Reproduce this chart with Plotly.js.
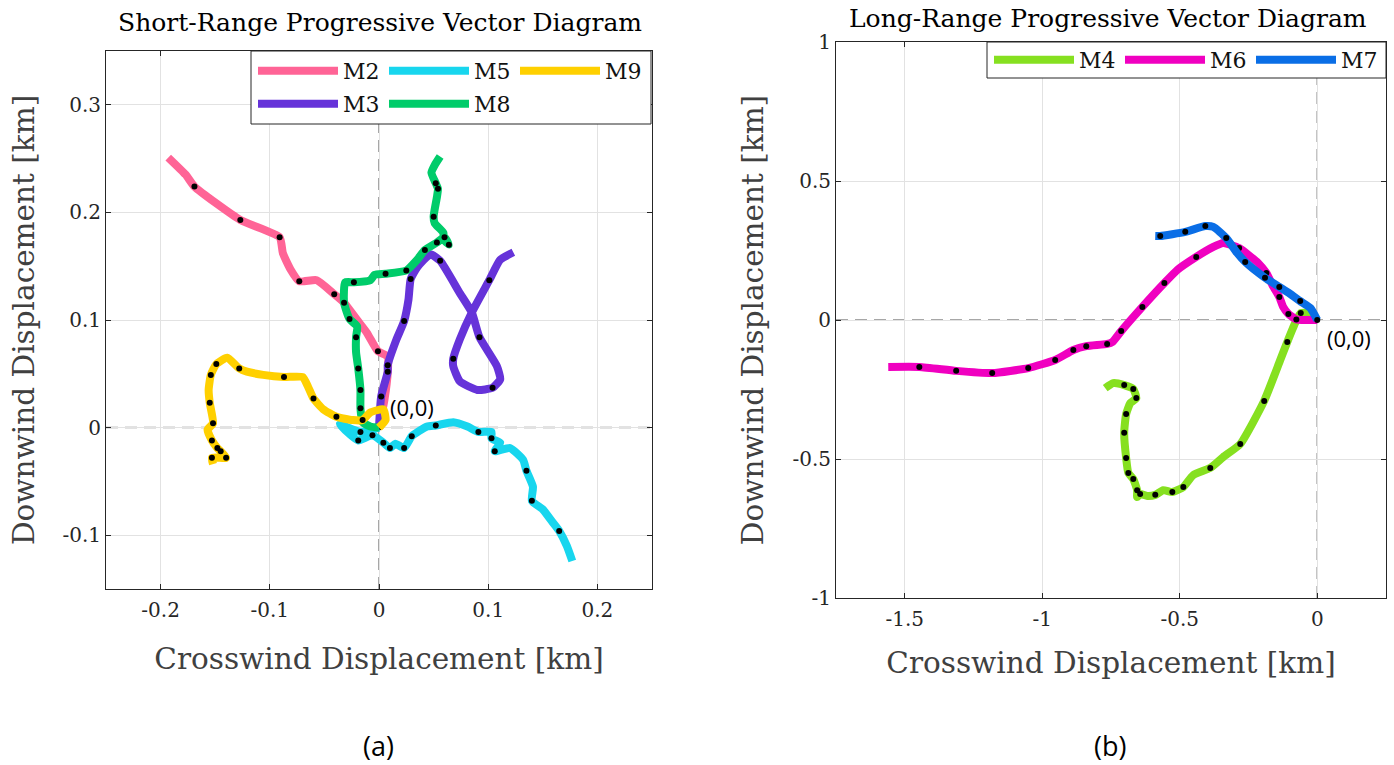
<!DOCTYPE html>
<html><head><meta charset="utf-8">
<script src="https://cdn.plot.ly/plotly-3.0.1.min.js"></script>
<style>html,body{margin:0;padding:0;background:#fff}#chart{width:1394px;height:765px}</style>
</head><body><div id="chart"></div>
<script>
// ---------- Short-range (a) ----------
const m2X = [0, 0.005, 0.008, 0.008, -0.001, -0.011, -0.020, -0.032, -0.041, -0.057, -0.073, -0.081, -0.088, -0.091, -0.127, -0.169, -0.177, -0.193];
const m2Y = [0, 0.026, 0.051, 0.066, 0.071, 0.088, 0.100, 0.116, 0.124, 0.137, 0.136, 0.147, 0.162, 0.177, 0.193, 0.224, 0.235, 0.251];
const m2Dot = [0,0,0,0,1,0,0,0,1,0,1,0,0,1,1,1,0,0];

const m3X = [0, 0.002, 0.008, 0.008, 0.016, 0.023, 0.027, 0.029, 0.035, 0.047, 0.056, 0.074, 0.085, 0.092, 0.108, 0.111, 0.104, 0.090, 0.074, 0.068, 0.068, 0.074, 0.085, 0.101, 0.111, 0.123];
const m3Y = [0, 0.029, 0.052, 0.058, 0.082, 0.099, 0.119, 0.138, 0.149, 0.161, 0.155, 0.125, 0.107, 0.084, 0.057, 0.045, 0.037, 0.035, 0.043, 0.057, 0.064, 0.082, 0.107, 0.137, 0.156, 0.163];
const m3Dot = [1,1,1,1,0,1,0,1,0,0,1,0,0,1,0,0,1,0,0,0,1,0,0,1,0,0];

const m5X = [0, -0.017, -0.036, -0.027, -0.019, -0.006, 0.004, 0.010, 0.015, 0.023, 0.030, 0.044, 0.052, 0.068, 0.081, 0.091, 0.103, 0.103, 0.111, 0.106, 0.120, 0.132, 0.135, 0.141, 0.140, 0.150, 0.159, 0.165, 0.172, 0.177];
const m5Y = [0, -0.004, 0.003, -0.006, -0.012, -0.007, -0.014, -0.019, -0.015, -0.019, -0.008, 0.001, 0.002, 0.005, 0.001, -0.004, -0.004, -0.010, -0.014, -0.022, -0.019, -0.030, -0.040, -0.055, -0.068, -0.076, -0.088, -0.096, -0.110, -0.124];
const m5Dot = [0,1,0,0,1,1,1,1,0,1,1,0,1,0,0,1,0,1,0,1,0,0,1,0,1,0,0,1,0,0];

const m8X = [0, -0.008, -0.015, -0.017, -0.017, -0.019, -0.021, -0.021, -0.020, -0.027, -0.032, -0.031, -0.023, -0.008, -0.004, 0.006, 0.025, 0.035, 0.042, 0.053, 0.060, 0.064, 0.059, 0.059, 0.051, 0.050, 0.053, 0.054, 0.052, 0.048, 0.051, 0.056];
const m8Y = [0, 0.001, 0.005, 0.018, 0.035, 0.055, 0.070, 0.084, 0.094, 0.101, 0.116, 0.135, 0.135, 0.137, 0.142, 0.143, 0.146, 0.156, 0.165, 0.172, 0.177, 0.170, 0.175, 0.181, 0.190, 0.196, 0.214, 0.222, 0.227, 0.237, 0.244, 0.252];
const m8Dot = [0,0,0,1,1,1,0,1,0,1,1,0,1,0,0,1,1,0,1,1,1,1,0,0,0,1,0,1,1,0,0,0];

const m9X = [0, 0.006, 0.004, -0.008, -0.015, -0.024, -0.039, -0.051, -0.060, -0.065, -0.070, -0.087, -0.106, -0.121, -0.128, -0.139, -0.149, -0.154, -0.156, -0.155, -0.152, -0.157, -0.153, -0.148, -0.145, -0.140, -0.153, -0.152];
const m9Y = [0, 0.007, 0.017, 0.014, 0.007, 0.007, 0.010, 0.017, 0.027, 0.038, 0.047, 0.047, 0.049, 0.052, 0.055, 0.065, 0.059, 0.049, 0.035, 0.023, 0.004, -0.002, -0.012, -0.019, -0.022, -0.028, -0.028, -0.034];
const m9Dot = [0,0,0,0,1,0,1,0,1,0,0,1,0,0,1,0,1,1,0,1,1,0,1,1,1,1,1,0];

// ---------- Long-range (b) ----------
const m4X = [0, -0.035, -0.060, -0.080, -0.109, -0.135, -0.193, -0.280, -0.342, -0.389, -0.451, -0.487, -0.527, -0.560, -0.589, -0.618, -0.644, -0.655, -0.655, -0.669, -0.687, -0.695, -0.702, -0.695, -0.680, -0.658, -0.669, -0.702, -0.742, -0.771];
const m4Y = [0, 0.025, 0.025, -0.010, -0.079, -0.145, -0.291, -0.446, -0.493, -0.532, -0.558, -0.601, -0.619, -0.612, -0.629, -0.633, -0.626, -0.637, -0.612, -0.572, -0.550, -0.496, -0.406, -0.338, -0.299, -0.281, -0.248, -0.234, -0.227, -0.245];
const m4Dot = [0,0,1,0,1,0,1,1,0,1,0,1,1,0,1,0,1,0,1,1,1,1,1,1,0,1,1,1,0,0];

const m6X = [0, -0.040, -0.076, -0.105, -0.124, -0.138, -0.160, -0.185, -0.215, -0.284, -0.342, -0.378, -0.440, -0.509, -0.556, -0.636, -0.713, -0.745, -0.764, -0.840, -0.887, -0.953, -1.051, -1.182, -1.313, -1.447, -1.560];
const m6Y = [0, 0.000, 0.002, 0.022, 0.047, 0.083, 0.120, 0.169, 0.205, 0.259, 0.277, 0.263, 0.227, 0.180, 0.133, 0.047, -0.040, -0.079, -0.086, -0.094, -0.108, -0.144, -0.173, -0.191, -0.183, -0.169, -0.169];
const m6Dot = [0,0,1,1,0,1,0,1,0,1,0,0,1,0,1,1,1,0,1,1,1,1,1,1,1,1,0];

const m7X = [0, -0.025, -0.062, -0.100, -0.138, -0.190, -0.262, -0.291, -0.331, -0.378, -0.407, -0.480, -0.571, -0.589];
const m7Y = [0, 0.043, 0.068, 0.095, 0.119, 0.152, 0.209, 0.241, 0.295, 0.335, 0.338, 0.317, 0.302, 0.302];
const m7Dot = [1,0,1,0,1,1,1,0,1,0,1,1,1,0];

// ---------- Axis ticks ----------
const ticksAx = [-0.2, -0.1, 0, 0.1, 0.2];
const ticksAxText = ['-0.2', '-0.1', '0', '0.1', '0.2'];
const ticksAy = [-0.1, 0, 0.1, 0.2, 0.3];
const ticksAyText = ['-0.1', '0', '0.1', '0.2', '0.3'];
const ticksBx = [-1.5, -1, -0.5, 0];
const ticksBxText = ['-1.5', '-1', '-0.5', '0'];
const ticksBy = [-1, -0.5, 0, 0.5, 1];
const ticksByText = ['-1', '-0.5', '0', '0.5', '1'];

const SERIF = 'DejaVu Serif, Liberation Serif, serif';
const SANS = 'Open Sans, Noto Sans, sans-serif';

function series(name, xs, ys, dots, color, xa, ya, legend) {
  const line = {
    type: 'scatter', mode: 'lines', name: name, x: xs, y: ys,
    xaxis: xa, yaxis: ya, legend: legend,
    line: {color: color, width: 8, shape: 'spline', smoothing: 0.5},
    hoverinfo: 'name'
  };
  const dx = [], dy = [];
  dots.forEach((f, i) => { if (f) { dx.push(xs[i]); dy.push(ys[i]); } });
  const dot = {
    type: 'scatter', mode: 'markers', x: dx, y: dy, xaxis: xa, yaxis: ya,
    marker: {color: '#000', size: 6}, showlegend: false, hoverinfo: 'skip'
  };
  return [line, dot];
}

const data = [].concat(
  series('M2', m2X, m2Y, m2Dot, '#ff6496', 'x', 'y', 'legend'),
  series('M3', m3X, m3Y, m3Dot, '#6633d9', 'x', 'y', 'legend2'),
  series('M5', m5X, m5Y, m5Dot, '#18d6ee', 'x', 'y', 'legend'),
  series('M8', m8X, m8Y, m8Dot, '#00cc6a', 'x', 'y', 'legend2'),
  series('M9', m9X, m9Y, m9Dot, '#ffd000', 'x', 'y', 'legend'),
  series('M4', m4X, m4Y, m4Dot, '#86e020', 'x2', 'y2', 'legend3'),
  series('M6', m6X, m6Y, m6Dot, '#f000c0', 'x2', 'y2', 'legend3'),
  series('M7', m7X, m7Y, m7Dot, '#0a6ee6', 'x2', 'y2', 'legend3')
);

const W = 1394, H = 765;
const px = v => v / W;
const py = v => 1 - v / H;

function axisCommon() {
  return {
    tickmode: 'array', ticks: 'inside', ticklen: 5, tickcolor: '#262626',
    showline: true, mirror: 'ticks', linecolor: '#262626', linewidth: 1,
    showgrid: true, gridcolor: '#e2e2e2', gridwidth: 1, zeroline: false,
    tickfont: {family: SERIF, size: 20, color: '#262626'},
    automargin: false, fixedrange: true
  };
}

const xaxis = Object.assign(axisCommon(), {
  domain: [px(106), px(652)], range: [-0.25, 0.25], anchor: 'y',
  tickvals: ticksAx, ticktext: ticksAxText, ticklabelstandoff: 3,
  title: {text: 'Crosswind Displacement [km]', font: {family: SERIF, size: 29.5, color: '#404040'}, standoff: 27}
});
const yaxis = Object.assign(axisCommon(), {
  domain: [py(589), py(51)], range: [-0.15, 0.35], anchor: 'x',
  tickvals: ticksAy, ticktext: ticksAyText,
  title: {text: 'Downwind Displacement [km]', font: {family: SERIF, size: 29.5, color: '#404040'}, standoff: 19}
});
const xaxis2 = Object.assign(axisCommon(), {
  domain: [px(836), px(1386)], range: [-1.75, 0.25], anchor: 'y2',
  tickvals: ticksBx, ticktext: ticksBxText, ticklabelstandoff: 3,
  title: {text: 'Crosswind Displacement [km]', font: {family: SERIF, size: 29.5, color: '#404040'}, standoff: 22}
});
const yaxis2 = Object.assign(axisCommon(), {
  domain: [py(598), py(42)], range: [-1, 1], anchor: 'x2',
  tickvals: ticksBy, ticktext: ticksByText,
  title: {text: 'Downwind Displacement [km]', font: {family: SERIF, size: 29.5, color: '#404040'}, standoff: 20}
});

const dash = {color: '#8a8a8a', width: 1.5, dash: '12px,7px'};
const legendCommon = {
  orientation: 'h', xanchor: 'left', yanchor: 'top',
  bgcolor: 'rgba(0,0,0,0)', borderwidth: 0, itemwidth: 80,
  entrywidth: 36, entrywidthmode: 'pixels',
  font: {family: SERIF, size: 22, color: '#111'},
  itemclick: false, itemdoubleclick: false, tracegroupgap: 0
};

const layout = {
  width: W, height: H,
  margin: {l: 0, r: 0, t: 0, b: 0},
  paper_bgcolor: '#fff', plot_bgcolor: '#fff',
  showlegend: true,
  xaxis: xaxis, yaxis: yaxis, xaxis2: xaxis2, yaxis2: yaxis2,
  legend: Object.assign({}, legendCommon, {x: px(253), y: py(50)}),
  legend2: Object.assign({}, legendCommon, {x: px(253), y: py(83)}),
  legend3: Object.assign({}, legendCommon, {x: px(989), y: py(39)}),
  shapes: [
    {type: 'line', xref: 'x', yref: 'y domain', x0: 0, x1: 0, y0: 0, y1: 1, line: dash, layer: 'below'},
    {type: 'line', xref: 'x domain', yref: 'y', x0: 0, x1: 1, y0: 0, y1: 0, line: dash, layer: 'below'},
    {type: 'line', xref: 'x2', yref: 'y2 domain', x0: 0, x1: 0, y0: 0, y1: 1, line: dash, layer: 'below'},
    {type: 'line', xref: 'x2 domain', yref: 'y2', x0: 0, x1: 1, y0: 0, y1: 0, line: dash, layer: 'below'},
    {type: 'rect', xref: 'paper', yref: 'paper', x0: px(251), x1: px(651), y0: py(124), y1: py(51),
     fillcolor: '#fff', line: {color: '#262626', width: 1}, layer: 'above'},
    {type: 'rect', xref: 'paper', yref: 'paper', x0: px(987), x1: px(1386), y0: py(78), y1: py(42),
     fillcolor: '#fff', line: {color: '#262626', width: 1}, layer: 'above'}
  ],
  annotations: [
    {text: 'Short-Range Progressive Vector Diagram', xref: 'paper', yref: 'paper', x: px(380), y: py(22),
     xanchor: 'center', yanchor: 'middle', showarrow: false, font: {family: SERIF, size: 25, color: '#000'}},
    {text: 'Long-Range Progressive Vector Diagram', xref: 'paper', yref: 'paper', x: px(1108), y: py(18),
     xanchor: 'center', yanchor: 'middle', showarrow: false, font: {family: SERIF, size: 25, color: '#000'}},
    {text: '(0,0)', xref: 'x', yref: 'y', x: 0.008, y: 0.019, xanchor: 'left', yanchor: 'middle',
     showarrow: false, font: {family: SANS, size: 22, color: '#000'}},
    {text: '(0,0)', xref: 'x2', yref: 'y2', x: 0.029, y: -0.065, xanchor: 'left', yanchor: 'middle',
     showarrow: false, font: {family: SANS, size: 22, color: '#000'}},
    {text: '(a)', xref: 'paper', yref: 'paper', x: px(379), y: py(745), xanchor: 'center', yanchor: 'middle',
     showarrow: false, font: {family: SANS, size: 27, color: '#000'}},
    {text: '(b)', xref: 'paper', yref: 'paper', x: px(1110), y: py(745), xanchor: 'center', yanchor: 'middle',
     showarrow: false, font: {family: SANS, size: 27, color: '#000'}}
  ]
};

Plotly.newPlot('chart', data, layout, {displayModeBar: false, staticPlot: false});
</script>
</body></html>
